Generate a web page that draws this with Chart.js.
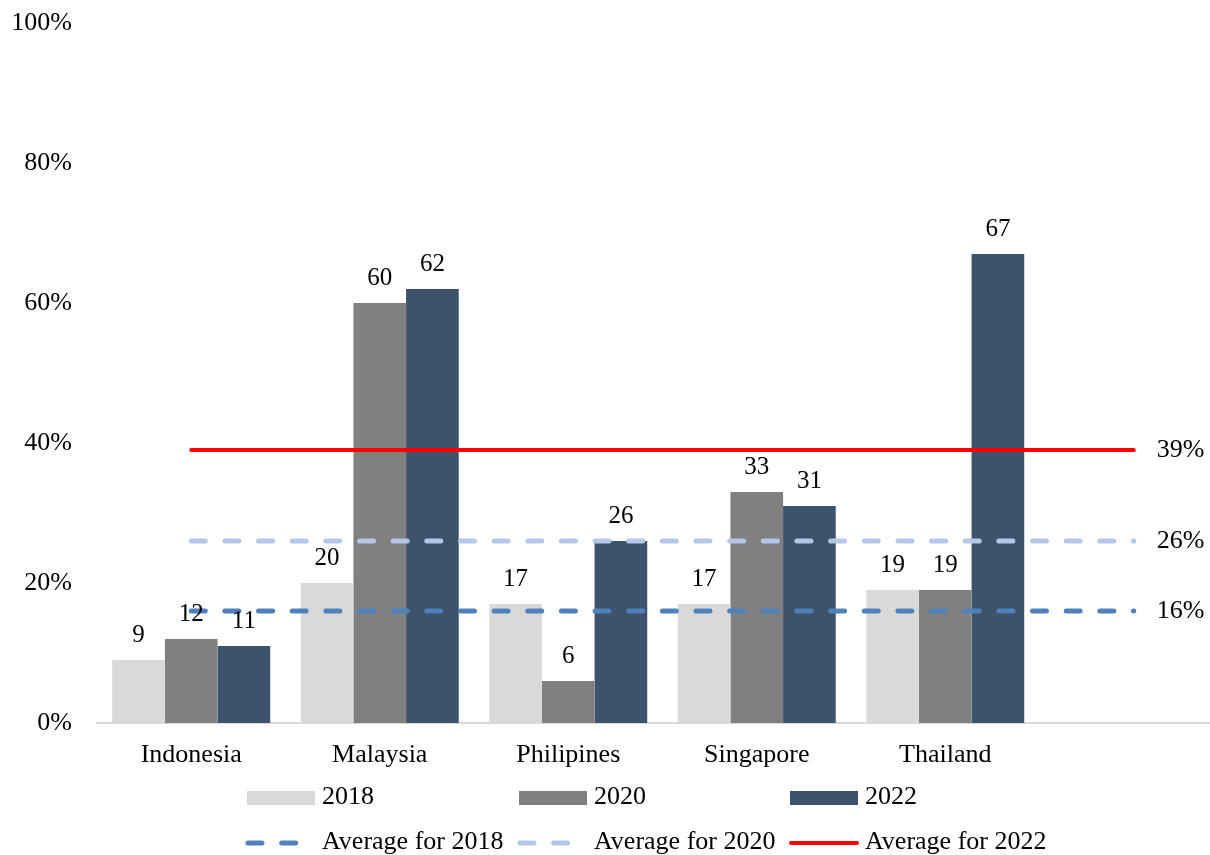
<!DOCTYPE html>
<html>
<head>
<meta charset="utf-8">
<script src="https://cdn.jsdelivr.net/npm/chart.js@4.4.1/dist/chart.umd.min.js"></script>
<style>
  html, body { margin: 0; padding: 0; background: #fff; overflow: hidden; }
  #wrap { width: 1210px; height: 855px; overflow: hidden; }
  canvas { display: block; }
</style>
</head>
<body>
<div id="wrap"><canvas id="chart" width="1228" height="855"></canvas></div>
<script>
/* ── data ── */
const countries = ['Indonesia', 'Malaysia', 'Philipines', 'Singapore', 'Thailand', ''];
const y2018 = [9, 20, 17, 17, 19, null];
const y2020 = [12, 60, 6, 33, 19, null];
const y2022 = [11, 62, 26, 31, 67, null];
const avg2018 = [16, 16, 16, 16, 16, 16];
const avg2020 = [26, 26, 26, 26, 26, 26];
const avg2022 = [39, 39, 39, 39, 39, 39];
const yTicks = [0, 20, 40, 60, 80, 100];

const FONT = "'Liberation Serif', 'Times New Roman', serif";
const COL = { y18: '#d9d9d9', y20: '#808080', y22: '#3d536b', a18: '#4f81bd', a20: '#b4c7e7', a22: '#ff0000' };
const DASH = [14, 19.65];

/* value labels above bars + average labels at the right end of each line */
const valueLabels = {
  id: 'valueLabels',
  afterDatasetsDraw(chart) {
    const ctx = chart.ctx;
    ctx.save();
    ctx.fillStyle = '#000';
    ctx.textBaseline = 'middle';
    chart.data.datasets.forEach((ds, i) => {
      const meta = chart.getDatasetMeta(i);
      if (ds.type === 'bar') {
        ctx.font = '25px ' + FONT;
        ctx.textAlign = 'center';
        meta.data.forEach((el, j) => {
          if (ds.data[j] == null) return;
          ctx.fillText(ds.data[j], el.x, el.y - 25);
        });
      } else {
        const last = meta.data.length - 1;
        const el = meta.data[last];
        ctx.font = '26px ' + FONT;
        ctx.textAlign = 'left';
        ctx.fillText(ds.data[last] + '%', el.x + 23, el.y);
      }
    });
    ctx.restore();
  }
};

/* two-row legend laid out in fixed columns */
const gridLegend = {
  id: 'gridLegend',
  afterDraw(chart) {
    const ctx = chart.ctx;
    const base = chart.chartArea.bottom;
    const cols = [247, 519, 790];
    const rows = [base + 75, base + 120];
    ctx.save();
    chart.data.datasets.forEach((ds, i) => {
      const x = cols[i % 3], y = rows[Math.floor(i / 3)];
      if (ds.type === 'bar') {
        ctx.fillStyle = ds.backgroundColor;
        ctx.fillRect(x, y - 7, 68, 14);
      } else {
        ctx.strokeStyle = ds.borderColor;
        ctx.lineWidth = ds.borderWidth;
        ctx.lineCap = 'round';
        ctx.setLineDash(ds.borderDash || []);
        ctx.beginPath();
        ctx.moveTo(x + 1, y);
        ctx.lineTo(x + 50 + (ds.borderDash ? 0 : 17), y);
        ctx.stroke();
        ctx.setLineDash([]);
      }
      ctx.fillStyle = '#000';
      ctx.font = '26px ' + FONT;
      ctx.textAlign = 'left';
      ctx.textBaseline = 'middle';
      ctx.fillText(ds.label, x + 75, y - 1);
    });
    ctx.restore();
  }
};

const barDs = (label, data, color) => ({
  type: 'bar', label, data, backgroundColor: color, borderWidth: 0,
  categoryPercentage: 0.838, barPercentage: 1, order: 2,
});
const lineDs = (label, data, color, width, dash) => ({
  type: 'line', label, data, borderColor: color, borderWidth: width,
  borderDash: dash, borderCapStyle: 'round', pointRadius: 0, fill: false, order: 1,
});

new Chart(document.getElementById('chart'), {
  type: 'bar',
  data: {
    labels: countries,
    datasets: [
      barDs('2018', y2018, COL.y18),
      barDs('2020', y2020, COL.y20),
      barDs('2022', y2022, COL.y22),
      lineDs('Average for 2018', avg2018, COL.a18, 5, DASH),
      lineDs('Average for 2020', avg2020, COL.a20, 5, DASH),
      lineDs('Average for 2022', avg2022, COL.a22, 4, undefined),
    ]
  },
  options: {
    responsive: false,
    animation: false,
    layout: { padding: { top: 23, left: 0, right: 0, bottom: 0 } },
    plugins: { legend: { display: false }, tooltip: { enabled: false } },
    scales: {
      x: {
        grid: { display: false, drawTicks: false },
        border: { display: true, color: '#d9d9d9', width: 2 },
        ticks: { color: '#000', font: { family: FONT, size: 26 }, padding: 17, maxRotation: 0, autoSkip: false },
        afterFit: s => { s.height = 132; }
      },
      y: {
        min: 0, max: 100,
        grid: { display: false, drawTicks: false },
        border: { display: false },
        afterBuildTicks: s => { s.ticks = yTicks.map(v => ({ value: v })); },
        ticks: { color: '#000', font: { family: FONT, size: 26 }, padding: 25, callback: v => v + '%' },
        afterFit: s => { s.width = 97; s.paddingTop = 0; s.paddingBottom = 0; }
      }
    }
  },
  plugins: [valueLabels, gridLegend]
});
</script>
</body>
</html>
